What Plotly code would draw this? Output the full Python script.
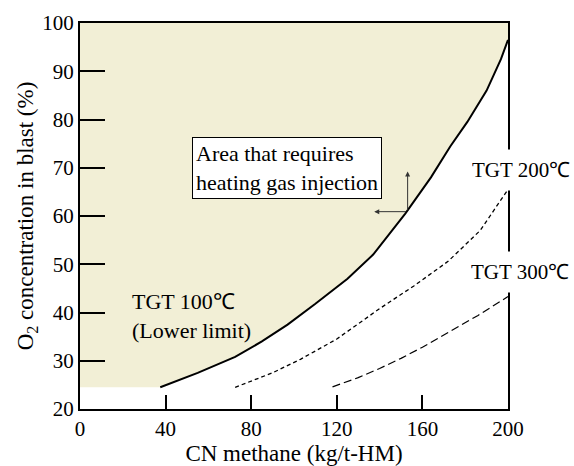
import plotly.graph_objects as go

# Data
solid_x = [37.5, 55, 72.5, 85, 97, 110, 125, 137, 152, 164, 173, 181, 190, 196.7, 200]
solid_y = [24.5, 27.5, 30.8, 34.0, 37.5, 41.8, 47.0, 52.0, 60.5, 68.0, 74.4, 79.5, 86.0, 92.5, 96.5]

tgt200_x = [72.5, 90, 103, 120, 140, 156, 172, 187, 200]
tgt200_y = [24.5, 27.5, 30.3, 34.5, 40.8, 45.5, 50.6, 57.0, 65.5]

tgt300_x = [118, 130, 140, 150, 160, 172, 186, 200]
tgt300_y = [24.6, 26.5, 28.4, 30.5, 32.8, 35.8, 39.4, 43.3]

fill_floor = 24.5
x_ticks = [0, 40, 80, 120, 160, 200]
y_ticks = [20, 30, 40, 50, 60, 70, 80, 90, 100]

FONT = "Liberation Serif"
BEIGE = "#F2EFD6"

fig = go.Figure()

# shaded area requiring heating gas injection
fig.add_trace(go.Scatter(
    x=[0] + solid_x + [200, 0],
    y=[fill_floor] + solid_y + [100, 100],
    fill="toself", fillcolor=BEIGE, mode="lines",
    line=dict(width=0), hoverinfo="skip", showlegend=False))

fig.add_trace(go.Scatter(x=solid_x, y=solid_y, mode="lines",
                         line=dict(color="black", width=2), showlegend=False))
fig.add_trace(go.Scatter(x=tgt200_x, y=tgt200_y, mode="lines",
                         line=dict(color="black", width=1.3, dash="4px,3px"),
                         showlegend=False))
fig.add_trace(go.Scatter(x=tgt300_x, y=tgt300_y, mode="lines",
                         line=dict(color="black", width=1.2, dash="8px,4px"),
                         showlegend=False))

annos = []
annos.append(dict(x=52.5, y=76.4, xref="x", yref="y", xanchor="left", yanchor="top",
                  text="Area that requires<br>heating gas injection", align="left",
                  showarrow=False, bgcolor="white", bordercolor="black", borderwidth=1,
                  borderpad=3, font=dict(family=FONT, size=22, color="black")))
# arrows
annos.append(dict(x=153.1, y=69.2, ax=153.1, ay=60.9, xref="x", yref="y",
                  axref="x", ayref="y", showarrow=True, arrowhead=2, arrowsize=1,
                  arrowwidth=1, arrowcolor="#333", text=""))
annos.append(dict(x=137.5, y=60.9, ax=153.1, ay=60.9, xref="x", yref="y",
                  axref="x", ayref="y", showarrow=True, arrowhead=2, arrowsize=1,
                  arrowwidth=1, arrowcolor="#333", text=""))
annos.append(dict(x=23.5, y=39.3, xref="x", yref="y", xanchor="left", yanchor="middle",
                  text="TGT 100℃<br>(Lower limit)", align="left", showarrow=False,
                  font=dict(family=FONT, size=22, color="black")))
annos.append(dict(x=182.5, y=69.5, xref="x", yref="y", xanchor="left", yanchor="middle",
                  text="TGT 200℃", showarrow=False, bgcolor="white", height=40,
                  borderpad=0, font=dict(family=FONT, size=21, color="black")))
annos.append(dict(x=182.2, y=48.4, xref="x", yref="y", xanchor="left", yanchor="middle",
                  text="TGT 300℃", showarrow=False, bgcolor="white", height=40,
                  borderpad=0, font=dict(family=FONT, size=21, color="black")))

fig.update_layout(
    width=574, height=466,
    margin=dict(l=80, r=66, t=23, b=57),
    paper_bgcolor="white", plot_bgcolor="white",
    font=dict(family=FONT, size=21, color="black"),
    annotations=annos,
    showlegend=False,
)
fig.update_xaxes(range=[0, 200], tickvals=x_ticks, ticktext=[str(v) for v in x_ticks],
                 ticks="inside", ticklen=14, tickwidth=2, tickcolor="black",
                 showline=True, linewidth=2, linecolor="black", mirror=True,
                 showgrid=False, zeroline=False, automargin=False,
                 tickfont=dict(family=FONT, size=21),
                 title=dict(text="CN methane (kg/t-HM)", standoff=4,
                            font=dict(family=FONT, size=23)))
fig.update_yaxes(range=[20, 100], tickvals=y_ticks, ticktext=[str(v) for v in y_ticks],
                 ticks="inside", ticklen=25, tickwidth=2, tickcolor="black",
                 showline=True, linewidth=2, linecolor="black", mirror=True,
                 showgrid=False, zeroline=False, automargin=False,
                 tickfont=dict(family=FONT, size=21),
                 title=dict(text="O<sub>2</sub> concentration in blast (%)", standoff=2,
                            font=dict(family=FONT, size=23)))

fig.write_html("out.html")
